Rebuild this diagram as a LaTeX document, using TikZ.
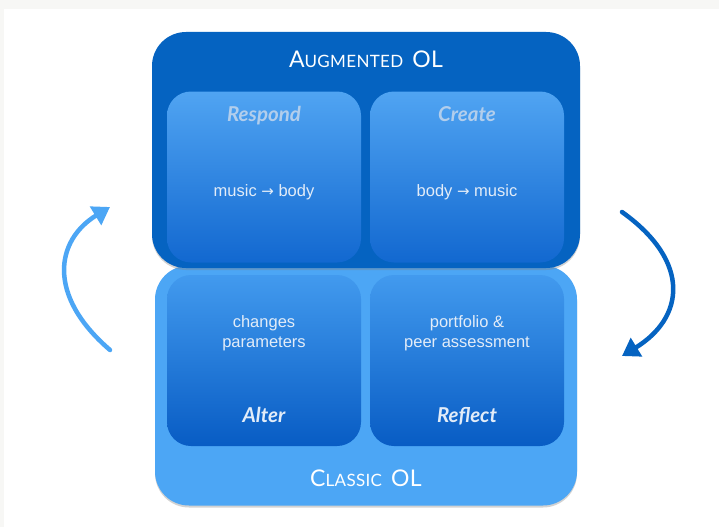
\documentclass[tikz,border=0pt]{standalone}
\usepackage{fontspec}
\setmainfont{Liberation Sans}
\newfontfamily\titlefont[LetterSpace=2]{Lato}
\newfontfamily\headfont{Lato}
\newfontfamily\symfont{DejaVu Sans}
\usetikzlibrary{arrows.meta,shadows}
\definecolor{augblue}{RGB}{5,99,193}
\definecolor{clsblue}{RGB}{76,166,245}
\definecolor{innertop}{RGB}{80,164,242}
\definecolor{innerbot}{RGB}{18,104,208}
\definecolor{innertopB}{RGB}{66,154,238}
\definecolor{innerbotB}{RGB}{8,92,196}
\definecolor{headtxt}{RGB}{178,206,236}
\definecolor{bodytxt}{RGB}{226,236,248}
\definecolor{greyedge}{RGB}{247,247,245}
\tikzset{
  outerbox/.style={rounded corners=34pt, inner sep=0pt, draw=none,
    drop shadow={opacity=0.35, shadow xshift=0pt, shadow yshift=-2pt}},
  innerbox/.style={rounded corners=24pt, inner sep=0pt, draw=none,
    minimum width=194pt, minimum height=171pt},
  titletxt/.style={text=white, font=\titlefont, anchor=base, inner sep=0pt},
  headlabel/.style={font=\headfont\bfseries\itshape\fontsize{20.5}{20.5}\selectfont, anchor=base, inner sep=0pt},
  bodylabel/.style={font=\fontsize{16.5}{20}\selectfont, text=bodytxt, align=center, anchor=base, inner sep=0pt},
  cyclearrow/.style={line width=4.5pt, line cap=round, -{Triangle[length=17pt,width=21pt]}}
}
\newcommand{\bigc}[1]{{\fontsize{23}{23}\selectfont #1}}
\newcommand{\smc}[1]{{\fontsize{17}{17}\selectfont #1}}
\begin{document}
\begin{tikzpicture}[x=1pt,y=-1pt]
\useasboundingbox (0,0) rectangle (719,527);
\fill[greyedge] (0,0) rectangle (719,527);
\fill[white] (4,9) rectangle (719,527);
% outer boxes
\node[outerbox, fill=clsblue, minimum width=422pt, minimum height=240pt] (classic) at (366,385.5) {};
\node[outerbox, fill=augblue, minimum width=428pt, minimum height=236pt] (augmented) at (366,150) {};
% inner boxes
\node[innerbox, top color=innertop, bottom color=innerbot] (respond) at (264,177) {};
\node[innerbox, top color=innertop, bottom color=innerbot] (create) at (467,177) {};
\node[innerbox, top color=innertopB, bottom color=innerbotB] (alter) at (264,360.5) {};
\node[innerbox, top color=innertopB, bottom color=innerbotB] (reflect) at (467,360.5) {};
% titles
\node[titletxt] (augtitle) at (366,67) {\bigc{A}\smc{UGMENTED}\hspace{9pt}\bigc{OL}};
\node[titletxt] (clstitle) at (366,486) {\bigc{C}\smc{LASSIC}\hspace{9pt}\bigc{OL}};
% inner headings
\node[headlabel, text=headtxt] (respondlbl) at (264,121) {Respond};
\node[headlabel, text=headtxt] (createlbl) at (467,121) {Create};
\node[headlabel, text=bodytxt] (alterlbl) at (264,422) {Alter};
\node[headlabel, text=bodytxt] (reflectlbl) at (467,422) {Reflect};
% body texts
\node[bodylabel] (mb) at (264,196) {music {\symfont\fontsize{15}{15}\selectfont →} body};
\node[bodylabel] (bm) at (467,196) {body {\symfont\fontsize{15}{15}\selectfont →} music};
\node[bodylabel] (chg) at (264,347) {changes\\parameters};
\node[bodylabel] (pf) at (467,347) {portfolio \&\\peer assessment};
% cycle arrows
\coordinate (lstart) at (110,350);
\coordinate (lend) at (110,207);
\coordinate (rstart) at (622,212);
\coordinate (rend) at (622,356);
\draw[cyclearrow, clsblue] (lstart) .. controls (46,295) and (56,240) .. (lend);
\draw[cyclearrow, augblue] (rstart) .. controls (692,262) and (684,318) .. (rend);
\end{tikzpicture}
\end{document}
